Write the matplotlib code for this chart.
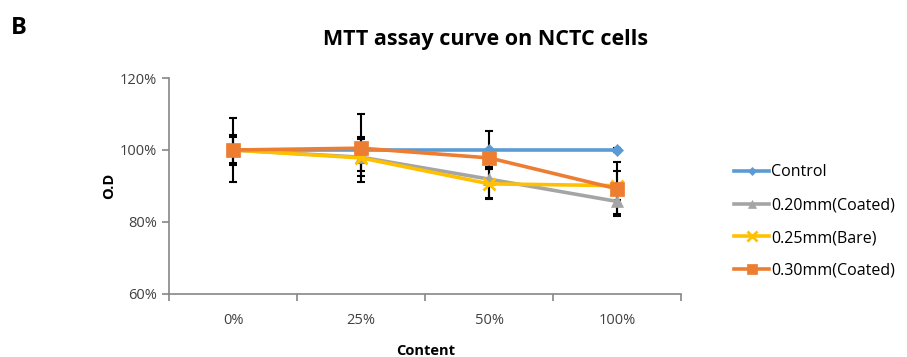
import numpy as np
import matplotlib.pyplot as plt
from matplotlib.ticker import FuncFormatter

plt.rcParams['font.family'] = ['Open Sans', 'DejaVu Sans']

categories = ['0%', '25%', '50%', '100%']
series_names = ['Control', '0.20mm(Coated)', '0.25mm(Bare)', '0.30mm(Coated)']
values = {
    'Control':        [100.0, 100.0, 100.0, 100.0],
    '0.20mm(Coated)': [100.0, 98.0, 91.9, 85.7],
    '0.25mm(Bare)':   [100.0, 97.8, 90.6, 90.1],
    '0.30mm(Coated)': [100.0, 100.5, 97.8, 89.2],
}
errors = {
    'Control':        [4.3, 3.5, 5.2, 0.5],
    '0.20mm(Coated)': [3.7, 5.1, 5.4, 3.5],
    '0.25mm(Bare)':   [8.8, 3.5, 4.0, 4.0],
    '0.30mm(Coated)': [0.5, 9.5, 2.6, 7.5],
}
colors = ['#5B9BD5', '#A5A5A5', '#FFC000', '#ED7D31']
markers = ['D', '^', 'x', 's']
msizes = [6, 8, 9, 10]

fig = plt.figure(figsize=(9.07, 3.57), dpi=100)
ax = fig.add_axes([0.1863, 0.1765, 0.565, 0.605])

x = np.arange(len(categories))
# error bars first, lines on top
for name in series_names:
    ax.errorbar(x, values[name], yerr=errors[name], fmt='none', ecolor='black',
                elinewidth=1.5, capsize=3, capthick=1.5, zorder=2)
for name, c, m, ms in zip(series_names, colors, markers, msizes):
    ax.plot(x, values[name], color=c, lw=2.6, marker=m, ms=ms,
            mew=2 if m == 'x' else 0.5, mec=c, label=name, zorder=3)

ax.set_xlim(-0.5, 3.5)
ax.set_ylim(60, 120)
ax.set_yticks([60, 80, 100, 120])
ax.yaxis.set_major_formatter(FuncFormatter(lambda v, p: '%d%%' % v))
ax.set_xticks(np.arange(-0.5, 4, 1))
ax.set_xticklabels([])
ax.set_xticks(x, minor=True)
ax.set_xticklabels(categories, minor=True)
ax.tick_params(axis='x', which='minor', length=0, pad=14)
ax.tick_params(axis='both', which='major', length=5, width=1.2, color='#868686',
               labelsize=10.5, labelcolor='#404040')
ax.tick_params(axis='x', which='minor', labelsize=10.5, labelcolor='#404040')
for s in ['top', 'right']:
    ax.spines[s].set_visible(False)
for s in ['left', 'bottom']:
    ax.spines[s].set_color('#868686')
    ax.spines[s].set_linewidth(1.2)

ax.set_ylabel('O.D', fontweight='bold', fontsize=10.5, labelpad=3)
ax.set_xlabel('Content', fontweight='bold', fontsize=10.5, labelpad=11)
fig.text(0.535, 0.888, 'MTT assay curve on NCTC cells', ha='center', va='center',
         fontsize=15.5, fontweight='bold')
fig.text(0.012, 0.905, 'B', fontsize=17, fontweight='bold')

ax.legend(loc='center left', bbox_to_anchor=(1.075, 0.335), frameon=False,
          fontsize=11.5, handlelength=2.2, handletextpad=0.1, labelspacing=1.05,
          markerscale=0.75)

fig.savefig('out.png', dpi=100)
